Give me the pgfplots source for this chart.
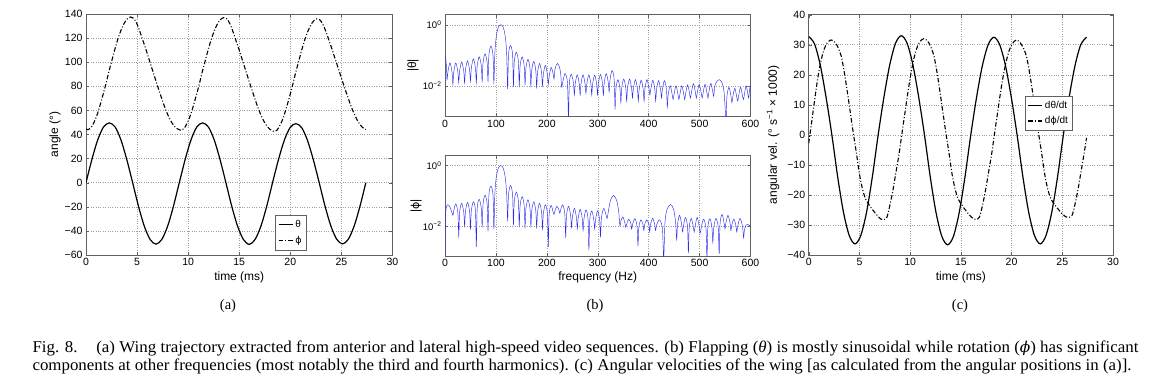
\documentclass[border=0pt]{standalone}
\usepackage{fontspec}
\setmainfont{Liberation Sans}
\newfontfamily\capfont{Liberation Serif}
\newfontfamily\dvs{DejaVu Sans}
\newfontfamily\dvserif{DejaVu Serif}
\usepackage{graphicx}
\usepackage{pgfplots}
\pgfplotsset{compat=1.18}

\definecolor{axgray}{gray}{0.38}
\definecolor{gridgray}{gray}{0.62}
\definecolor{specblue}{RGB}{45,45,235}

\newcommand\sphi{{\dvs\fontsize{9.5}{11}\selectfont ϕ}}
\newcommand\capA{Fig. 8.\hspace{1.1em}(a) Wing trajectory extracted from anterior and lateral high-speed video sequences. (b) Flapping (\textit{θ}) is mostly sinusoidal while rotation ({\dvserif\itshape\fontsize{15}{17}\selectfont ϕ}) has significant}
\newcommand\capB{components at other frequencies (most notably the third and fourth harmonics). (c) Angular velocities of the wing [as calculated from the angular positions in (a)].}

\pgfplotsset{
  mstyle/.style={
    scale only axis, anchor=north west,
    axis line style={axgray, line width=0.5pt},
    tick style={axgray, line width=0.4pt},
    tick align=inside, major tick length=3pt,
    grid=major, major grid style={dotted, gridgray, line width=0.5pt},
    tick label style={font=\fontsize{10.5}{12}\selectfont, text=black},
    label style={font=\fontsize{12}{14}\selectfont},
    /pgf/number format/assume math mode=true,
    legend style={draw=axgray, fill=white, font=\fontsize{10}{12}\selectfont,
                  inner xsep=2.5pt, inner ysep=3pt, row sep=3pt, legend cell align=left},
    legend image code/.code={\draw[#1] (0pt,0pt) -- (14pt,0pt);},
  },
  dashdot/.style={black, line width=1.1pt, dash pattern=on 4.5pt off 2pt on 1pt off 2pt},
  solidl/.style={black, line width=1.2pt},
  spec/.style={specblue, line width=0.45pt, smooth, tension=0.5},
}

\begin{document}
\begin{tikzpicture}
\path[use as bounding box] (0pt,0pt) rectangle (1153pt,-386pt);

% ---------------- (a) ----------------
\begin{axis}[mstyle, at={(86pt,-14pt)}, width=306.5pt, height=241pt,
  xmin=0, xmax=30, ymin=-60, ymax=140,
  xtick={0,5,...,30}, ytick={-60,-40,...,140},
  yticklabels={−60,−40,−20,0,20,40,60,80,100,120,140},
  xlabel={time (ms)}, ylabel={angle (°)},
  xlabel style={at={(axis description cs:0.5,-0.0913)}, anchor=center},
  ylabel style={at={(axis description cs:-0.101,0.5)}, anchor=center},
  legend style={at={(axis description cs:0.618,0.165)}, anchor=north west},
]
\addplot[solidl, smooth] coordinates {
(0,0)(0.571,19.1)(1.141,35.4)(1.712,46.2)(2.283,49.6)(2.853,46.2)(3.424,35.4)(3.995,19.1)
(4.565,0)(5.136,-19.5)(5.706,-36.1)(6.277,-47.1)(6.848,-51.0)(7.418,-47.1)(7.989,-36.1)(8.560,-19.5)
(9.130,0)(9.701,19.1)(10.271,35.4)(10.842,46.2)(11.413,49.6)(11.983,46.2)(12.554,35.4)(13.125,19.1)
(13.695,0)(14.266,-19.5)(14.836,-36.1)(15.407,-47.1)(15.978,-51.2)(16.548,-47.1)(17.119,-36.1)(17.690,-19.5)
(18.260,0)(18.831,18.9)(19.401,35.0)(19.972,45.7)(20.543,49.0)(21.113,45.7)(21.684,35.0)(22.255,18.9)
(22.825,0)(23.396,-19.4)(23.966,-35.9)(24.537,-46.9)(25.108,-50.8)(25.678,-46.9)(26.249,-35.9)(26.820,-19.4)
(27.390,0)};
\addlegendentry{θ}
\addplot[dashdot, smooth] coordinates {
(0,44.6)(0.15,44.0)(0.45,45.3)(0.75,49.5)(1.05,55.5)(1.35,63.5)(1.65,72.5)(1.95,82)(2.25,92.5)(2.55,102)
(2.85,111.5)(3.15,120)(3.45,127)(3.75,132.5)(4.05,136)(4.35,137.5)(4.65,136.5)(4.95,132.5)(5.25,126)
(5.55,118.5)(5.85,111)(6.15,103)(6.45,95)(6.75,87)(7.05,79)(7.35,71.5)(7.65,64)(7.95,57.5)(8.25,52)
(8.55,48)(8.85,45.3)
(9.28,43.5)(9.58,44.8)(9.88,49)(10.18,55)(10.48,63)(10.78,72)(11.08,81.5)(11.38,92)(11.68,101.5)
(11.98,111)(12.28,119.5)(12.58,126.5)(12.88,132)(13.18,135.5)(13.48,137)(13.78,136)(14.08,132)
(14.38,125.5)(14.68,118)(14.98,110.5)(15.28,102.5)(15.58,94.5)(15.88,86.5)(16.18,78.5)(16.48,71)
(16.78,63.5)(17.08,57)(17.38,51.5)(17.68,47.3)(17.98,44.5)
(18.41,42.5)(18.71,43.8)(19.01,48)(19.31,54)(19.61,62)(19.91,71)(20.21,80.5)(20.51,91)(20.81,100.5)
(21.11,110)(21.41,118.5)(21.71,125.5)(22.01,131)(22.31,134.5)(22.61,136)(22.91,135)(23.21,131)
(23.51,124.8)(23.81,117.5)(24.11,110)(24.41,102.2)(24.71,94.4)(25.01,86.6)(25.31,78.8)(25.61,71.5)
(25.91,64.2)(26.21,58)(26.51,52.5)(26.81,48.4)(27.11,45.6)(27.39,44.2)};
\addlegendentry{\sphi}
\end{axis}

% ---------------- (b) top ----------------
\begin{axis}[mstyle, at={(445pt,-14.7pt)}, width=305.5pt, height=101.6pt,
  xmin=0, xmax=600, ymin=-3, ymax=0.33,
  xtick={0,100,...,600}, ytick={-2,0},
  yticklabels={10\textsuperscript{−2},10\textsuperscript{0}},
  yticklabel style={font=\fontsize{9.5}{10}\selectfont},
  ylabel={|θ|},
  ylabel style={at={(axis description cs:-0.105,0.5)}, anchor=center},
]
\addplot[spec] coordinates {
(0,-0.98)(1.5,-1.12)(3,-1.4)(4,-1.8)
(5.7,-1.55)(9.75,-1.25)(13.8,-1.55)(15.5,-1.95)
(17.2,-1.55)(21.2,-1.25)(25.3,-1.55)(27,-1.9)
(28.7,-1.52)(32.7,-1.22)(36.8,-1.52)(38.5,-1.9)
(40.2,-1.48)(44.2,-1.18)(48.3,-1.48)(50,-1.85)
(51.7,-1.42)(55.7,-1.12)(59.8,-1.42)(61.5,-1.9)
(63.2,-1.35)(67.2,-1.05)(71.3,-1.35)(73,-1.85)
(74.7,-1.25)(78.7,-0.95)(82.8,-1.25)(84.5,-1.85)
(86.2,-1.0)(90.2,-0.7)(94.3,-1.0)(96,-1.9)
(98,-0.9)(101,-0.35)(105,-0.07)(109.5,0)(114,-0.07)(118,-0.35)(121,-0.9)(123,-2.1)
(124.7,-0.98)(128.7,-0.68)(132.7,-0.98)(134.4,-2.0)
(136.1,-1.2)(140.1,-0.9)(144.1,-1.2)(145.8,-2.0)
(147.5,-1.35)(151.5,-1.05)(155.5,-1.35)(157.2,-1.95)
(158.9,-1.43)(162.9,-1.13)(166.9,-1.43)(168.6,-2.0)
(170.3,-1.5)(174.3,-1.2)(178.3,-1.5)(180,-2.05)
(181.7,-1.57)(185.7,-1.27)(189.7,-1.57)(191.4,-2.0)
(193.1,-1.63)(197.1,-1.33)(201.1,-1.63)(202.8,-1.95)
(204.5,-1.7)(208.5,-1.4)(212.5,-1.62)(214.2,-1.78)
(216,-1.45)(220.5,-1.27)(225,-1.4)(227.5,-1.65)(229,-2.05)
(231,-1.9)(235.7,-1.6)(240.5,-1.9)(242.5,-3.1)
(244.2,-1.92)(248.2,-1.62)(252.3,-1.92)(254,-2.3)
(255.7,-1.94)(259.7,-1.64)(263.7,-1.94)(265.4,-2.3)
(267.1,-1.94)(271.1,-1.64)(275.1,-1.94)(276.8,-2.25)
(278.5,-1.94)(282.5,-1.64)(286.5,-1.94)(288.2,-2.3)
(289.9,-1.95)(293.9,-1.65)(297.9,-1.95)(299.6,-2.3)
(301.3,-1.93)(305.3,-1.63)(309.3,-1.93)(311,-2.3)
(312.7,-1.9)(316.7,-1.6)(320.7,-1.9)(322.4,-2.2)
(324.1,-1.8)(328.2,-1.5)(332.3,-1.8)(334,-2.75)
(335.7,-2.1)(339.7,-1.8)(343.7,-2.1)(345.4,-2.55)
(347.1,-2.08)(351.1,-1.78)(355.1,-2.08)(356.8,-2.5)
(358.5,-2.08)(362.5,-1.78)(366.5,-2.08)(368.2,-2.4)
(369.9,-2.1)(373.9,-1.8)(377.9,-2.1)(379.6,-2.5)
(381.3,-2.12)(385.3,-1.82)(389.3,-2.12)(391,-2.5)
(392.7,-2.1)(396.7,-1.8)(400.7,-2.1)(402.4,-2.3)
(404.1,-2.12)(408.1,-1.82)(412.1,-2.12)(413.8,-2.5)
(415.5,-2.13)(419.5,-1.83)(423.5,-2.13)(425.2,-2.4)
(426.9,-2.13)(430.9,-1.83)(434.9,-2.13)(436.6,-2.7)
(438.3,-2.3)(442.3,-2.0)(446.3,-2.3)(448,-2.45)
(449.7,-2.3)(453.7,-2.0)(457.7,-2.3)(459.4,-2.45)
(461.1,-2.3)(465.1,-2.0)(469.1,-2.3)(470.8,-2.45)
(472.5,-2.27)(476.5,-1.97)(480.5,-2.27)(482.2,-2.4)
(483.9,-2.23)(487.9,-1.93)(491.9,-2.23)(493.6,-2.4)
(495.3,-2.25)(499.3,-1.95)(503.3,-2.25)(505,-2.4)
(506.7,-2.25)(510.7,-1.95)(514.7,-2.25)(516.4,-2.4)
(518.1,-2.22)(522.1,-1.92)(526.1,-2.22)(527.8,-2.35)
(530,-2.0)(534,-1.86)(539,-1.8)(544,-1.9)(548,-2.2)(552,-3.1)
(553.7,-2.35)(557.7,-2.05)(561.7,-2.35)(563.4,-2.55)
(565.1,-2.38)(569.1,-2.08)(573.1,-2.38)(574.8,-2.5)
(576.5,-2.35)(580.5,-2.05)(584.5,-2.35)(586.2,-2.45)
(587.9,-2.3)(591.5,-2.0)(595,-2.3)(596.5,-2.4)
(598,-2.15)(600,-1.97)};
\end{axis}

% ---------------- (b) bottom ----------------
\begin{axis}[mstyle, at={(445pt,-155.7pt)}, width=305.5pt, height=100.3pt,
  xmin=0, xmax=600, ymin=-3, ymax=0.33,
  xtick={0,100,...,600}, ytick={-2,0},
  yticklabels={10\textsuperscript{−2},10\textsuperscript{0}},
  yticklabel style={font=\fontsize{9.5}{10}\selectfont},
  xlabel={frequency (Hz)}, ylabel={|{\dvs\fontsize{11}{13}\selectfont ϕ}|},
  xlabel style={at={(axis description cs:0.5,-0.209)}, anchor=center},
  ylabel style={at={(axis description cs:-0.095,0.5)}, anchor=center},
]
\addplot[spec] coordinates {
(0,-3.1)(0.8,-1.8)(2.2,-1.42)(5,-1.3)(9,-1.35)(12.5,-1.5)(15.5,-1.65)
(17.2,-1.5)(21.2,-1.27)(25.3,-1.57)(27,-2.35)
(28.7,-1.55)(32.7,-1.25)(36.8,-1.55)(38.5,-2.0)
(40.2,-1.52)(44.2,-1.22)(48.3,-1.52)(50,-2.1)
(51.7,-1.5)(55.7,-1.2)(59.8,-1.5)(61.5,-2.7)
(63.2,-1.42)(67.2,-1.12)(71.3,-1.42)(73,-2.0)
(74.7,-1.28)(78.7,-0.98)(82.8,-1.28)(84.5,-2.15)
(86.2,-0.98)(90.2,-0.68)(94.3,-0.98)(96,-2.1)
(98,-0.9)(101,-0.35)(105,-0.07)(109.5,0)(114,-0.07)(118,-0.35)(121,-0.9)(123,-1.8)
(124.7,-0.96)(128.7,-0.66)(132.7,-0.96)(134.4,-1.95)
(136.1,-1.18)(140.1,-0.88)(144.1,-1.18)(145.8,-2.0)
(147.5,-1.33)(151.5,-1.03)(155.5,-1.33)(157.2,-2.05)
(158.9,-1.43)(162.9,-1.13)(166.9,-1.43)(168.6,-2.0)
(170.3,-1.5)(174.3,-1.2)(178.3,-1.5)(180,-2.05)
(181.7,-1.55)(185.7,-1.25)(189.7,-1.55)(191.4,-2.1)
(193.1,-1.6)(197.1,-1.3)(201.1,-1.6)(202.8,-2.7)
(204.5,-1.62)(208.5,-1.32)(212.5,-1.55)(214.2,-1.62)
(215.9,-1.5)(219.9,-1.35)(223.9,-1.48)(225.6,-1.58)
(227.3,-1.45)(231.3,-1.3)(235.3,-1.6)(237,-2.36)
(238.7,-1.65)(242.7,-1.35)(246.7,-1.65)(248.4,-2.05)
(250.1,-1.72)(254.1,-1.42)(258.1,-1.72)(259.8,-2.1)
(261.5,-1.75)(265.5,-1.45)(269.5,-1.75)(271.2,-2.15)
(272.9,-1.77)(276.9,-1.47)(280.9,-1.77)(282.6,-2.8)
(284.3,-1.8)(288.3,-1.5)(292.3,-1.8)(294,-2.1)
(295.7,-1.8)(299.7,-1.5)(303.7,-1.8)(305.4,-2.35)
(307.3,-1.72)(311.9,-1.42)(316.5,-1.65)(318.5,-1.75)
(321,-1.5)(325,-1.15)(331,-0.99)(337,-1.15)(341,-1.5)(343.5,-2.0)
(345.2,-1.85)(349.2,-1.7)(353.3,-1.9)(355,-2.05)
(356.7,-1.95)(360.7,-1.78)(364.8,-1.9)(366.5,-2.1)
(368.4,-1.95)(372.7,-1.76)(377.1,-2.0)(379,-2.65)
(380.7,-2.05)(384.7,-1.8)(388.8,-1.95)(390.5,-2.15)
(392.2,-1.95)(396.2,-1.8)(400.3,-1.95)(402,-2.2)
(403.7,-1.95)(407.7,-1.75)(411.8,-1.95)(413.5,-2.15)
(415.9,-1.95)(421.5,-1.8)(427.1,-2.1)(429.5,-3.1)
(432,-1.9)(436,-1.45)(443,-1.29)(449,-1.45)(453,-1.9)(455,-2.45)
(456.7,-1.95)(460.7,-1.65)(464.8,-1.95)(466.5,-2.2)
(468.2,-2.02)(472.2,-1.72)(476.3,-2.02)(478,-2.9)
(479.7,-2.05)(483.7,-1.75)(487.8,-2.05)(489.5,-2.2)
(491.2,-2.02)(495.2,-1.72)(499.3,-2.02)(501,-2.25)
(503,-2.08)(507.7,-1.78)(512.5,-2.08)(514.5,-3.1)
(516.2,-2.06)(520.2,-1.76)(524.3,-2.06)(526,-2.55)
(527.9,-2.05)(532.2,-1.75)(536.6,-2.05)(538.5,-2.93)
(540.2,-1.92)(544.2,-1.62)(548.3,-1.92)(550,-2.1)
(551.7,-1.9)(555.7,-1.65)(559.8,-1.9)(561.5,-2.15)
(563.2,-1.98)(567.2,-1.78)(571.3,-1.98)(573,-2.2)
(575,-2.0)(579.7,-1.75)(584.5,-2.05)(586.5,-2.4)
(588,-2.15)(591,-1.98)(595,-1.95)(600,-2.03)};
\end{axis}

% ---------------- (c) ----------------
\begin{axis}[mstyle, at={(808.7pt,-14.7pt)}, width=304.3pt, height=240.3pt,
  xmin=0, xmax=30, ymin=-40, ymax=40,
  xtick={0,5,...,30}, ytick={-40,-30,...,40},
  yticklabels={−40,−30,−20,−10,0,10,20,30,40},
  xlabel={time (ms)}, ylabel={angular vel. (° s\textsuperscript{−1} × 1000)},
  xlabel style={at={(axis description cs:0.5,-0.0916)}, anchor=center},
  ylabel style={at={(axis description cs:-0.117,0.5)}, anchor=center},
  legend style={at={(axis description cs:0.711,0.663)}, anchor=north west},
]
\addplot[solidl, smooth] coordinates {
(0,32.7)(0.571,30.3)(1.141,23.2)(1.712,12.5)(2.283,0)(2.853,-13.9)(3.424,-25.7)(3.995,-33.5)
(4.565,-36.3)(5.136,-33.5)(5.706,-25.7)(6.277,-13.9)(6.848,0)(7.418,12.6)(7.989,23.3)(8.560,30.5)
(9.130,33.0)(9.701,30.5)(10.271,23.3)(10.842,12.6)(11.413,0)(11.983,-14)(12.554,-25.9)(13.125,-33.8)
(13.695,-36.6)(14.266,-33.8)(14.836,-25.9)(15.407,-14)(15.978,0)(16.548,12.5)(17.119,23.0)(17.690,30.0)
(18.260,32.5)(18.831,30.0)(19.401,23.0)(19.972,12.5)(20.543,0)(21.113,-13.9)(21.684,-25.7)(22.255,-33.5)
(22.825,-36.3)(23.396,-33.5)(23.966,-25.7)(24.537,-13.9)(25.108,0)(25.678,12.5)(26.249,23.0)(26.820,30.0)
(27.390,32.5)};
\addlegendentry{dθ/dt}
\addplot[dashdot, smooth] coordinates {
(0,-2.8)(0.3,4.5)(0.6,12)(0.9,19)(1.2,24.5)(1.5,28.3)(1.8,30.5)(2.2,31.6)(2.6,30.8)(2.9,29)(3.2,26.3)
(3.5,21)(3.8,14.5)(4.1,7.5)(4.4,0.5)(4.7,-6)(5.0,-13)(5.3,-18)(5.6,-21.3)(5.9,-23)(6.2,-24.5)(6.5,-25.8)
(6.8,-27)(7.1,-28)(7.35,-28.3)(7.7,-27.5)(8.0,-23.5)(8.3,-18.5)(8.6,-12.5)(8.9,-6.5)
(9.13,-1)(9.43,6)(9.73,13)(10.03,19.5)(10.33,24.8)(10.63,28.6)(10.93,30.9)(11.33,32)(11.73,31.2)
(12.03,29.3)(12.33,26.5)(12.63,21.2)(12.93,14.6)(13.23,7.5)(13.53,0.5)(13.83,-6)(14.13,-13)(14.43,-18)
(14.73,-21.3)(15.03,-23)(15.33,-24.5)(15.63,-25.8)(15.93,-27)(16.23,-27.9)(16.48,-28.2)(16.83,-27.4)
(17.13,-23.5)(17.43,-18.5)(17.73,-12.5)(18.03,-6.5)
(18.26,-1)(18.56,6)(18.86,13)(19.16,19.3)(19.46,24.3)(19.76,28)(20.06,30.3)(20.46,31.6)(20.86,30.6)
(21.16,28.9)(21.46,26.2)(21.76,21)(22.06,14.5)(22.36,7.5)(22.66,0.5)(22.96,-6)(23.26,-13)(23.56,-18)
(23.86,-21.2)(24.16,-22.8)(24.46,-24.2)(24.76,-25.4)(25.06,-26.5)(25.36,-27.3)(25.61,-27.5)(25.96,-26.8)
(26.26,-23)(26.56,-18)(26.86,-12)(27.16,-6)(27.39,-1)};
\addlegendentry{d\sphi/dt}
\end{axis}

% ---------------- sub-captions and figure caption ----------------
\node[font=\capfont\fontsize{14.5}{16}\selectfont] at (228pt,-306pt) {(a)};
\node[font=\capfont\fontsize{14.5}{16}\selectfont] at (595pt,-306pt) {(b)};
\node[font=\capfont\fontsize{14.5}{16}\selectfont] at (960pt,-306pt) {(c)};

\node[anchor=base west, inner sep=0pt] at (32.3pt,-352.7pt)
  {\resizebox{1106pt}{\height}{\capfont\fontsize{16.5}{17}\selectfont\capA}};
\node[anchor=base west, inner sep=0pt] at (32.3pt,-370pt)
  {\resizebox{1099pt}{\height}{\capfont\fontsize{16.5}{17}\selectfont\capB}};
\end{tikzpicture}
\end{document}
